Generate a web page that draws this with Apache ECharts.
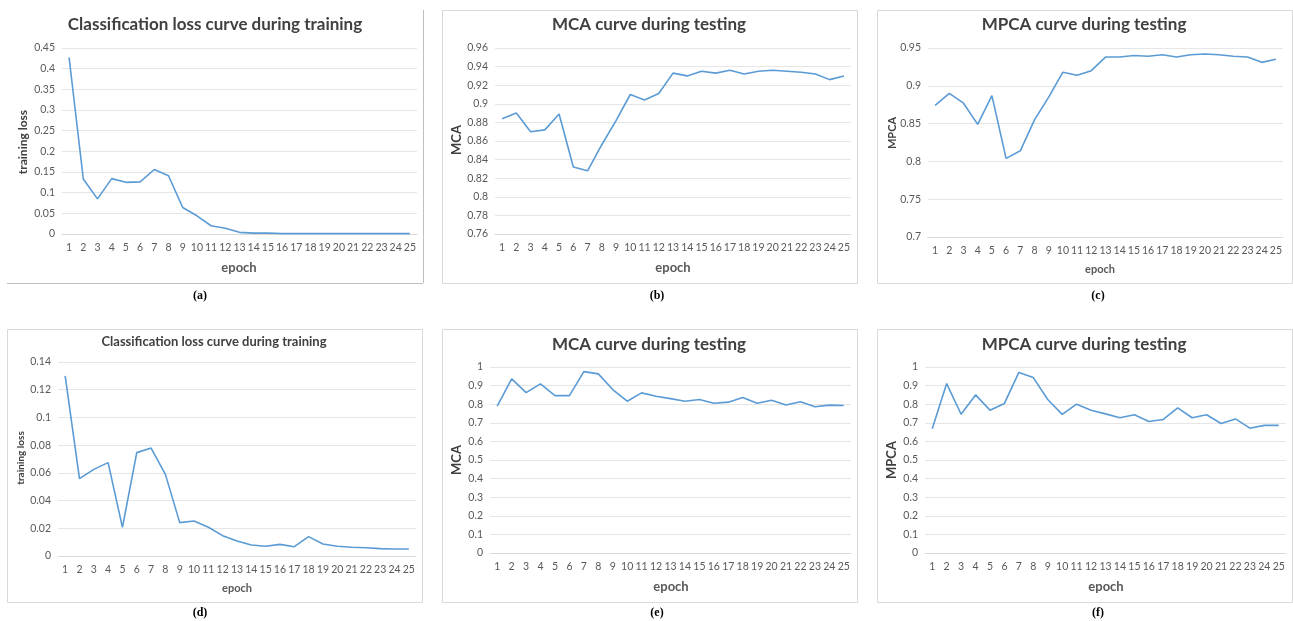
<!DOCTYPE html>
<html>
<head>
<meta charset="utf-8">
<script src="https://cdn.jsdelivr.net/npm/echarts@6/dist/echarts.min.js"></script>
<style>
html,body{margin:0;padding:0;background:#fff;}
#chart{width:1293px;height:621px;}
</style>
</head>
<body>
<div id="chart"></div>
<script>
// ---- data ----
const epochs = ['1','2','3','4','5','6','7','8','9','10','11','12','13','14','15','16','17','18','19','20','21','22','23','24','25'];

const lossA = [0.427,0.133,0.085,0.134,0.125,0.126,0.156,0.141,0.064,0.044,0.020,0.014,0.004,0.002,0.002,0.001,0.001,0.001,0.001,0.001,0.001,0.001,0.001,0.001,0.001];
const mcaB = [0.884,0.890,0.870,0.872,0.889,0.832,0.828,0.856,0.882,0.910,0.904,0.911,0.933,0.930,0.935,0.933,0.936,0.932,0.935,0.936,0.935,0.934,0.932,0.926,0.930];
const mpcaC = [0.874,0.890,0.877,0.849,0.887,0.804,0.814,0.855,0.885,0.918,0.914,0.920,0.938,0.938,0.940,0.939,0.941,0.938,0.941,0.942,0.941,0.939,0.938,0.931,0.935];
const lossD = [0.130,0.0558,0.0625,0.0674,0.0207,0.0746,0.0779,0.0589,0.0241,0.0253,0.0207,0.0147,0.0108,0.0079,0.0070,0.0084,0.0067,0.0140,0.0087,0.0070,0.0063,0.0060,0.0053,0.0051,0.0051];
const mcaE = [0.789,0.936,0.862,0.909,0.846,0.846,0.975,0.963,0.879,0.816,0.861,0.843,0.830,0.816,0.825,0.805,0.811,0.836,0.805,0.821,0.796,0.813,0.786,0.795,0.793];
const mpcaF = [0.668,0.911,0.746,0.850,0.768,0.804,0.971,0.943,0.825,0.745,0.800,0.768,0.748,0.727,0.743,0.707,0.718,0.780,0.727,0.743,0.696,0.721,0.671,0.686,0.686];

const titles = ['Classification loss curve during training','MCA curve during testing','MPCA curve during testing','Classification loss curve during training','MCA curve during testing','MPCA curve during testing'];
const yNames = ['training loss','MCA','MPCA','training loss','MCA','MPCA'];
const xName = 'epoch';
const captions = ['(a)','(b)','(c)','(d)','(e)','(f)'];
const yMin = [0, 0.76, 0.7, 0, 0, 0];
const yMax = [0.45, 0.96, 0.95, 0.14, 1, 1];
const yStep = [0.05, 0.02, 0.05, 0.02, 0.1, 0.1];
const seriesData = [lossA, mcaB, mpcaC, lossD, mcaE, mpcaF];

// ---- layout ----
const layout = [
  {grid:{left:62,top:48,width:355,height:186}, title:[215,25,17], yName:[23,142,12], xName:[239,268,13], cap:[200,296]},
  {grid:{left:495,top:48,width:356,height:186}, title:[649,25,17], yName:[457,140,13], xName:[673,268,13], cap:[657,296]},
  {grid:{left:928,top:48,width:355,height:189}, title:[1084,25,17], yName:[892,133,11], xName:[1100,269,11], cap:[1098,296]},
  {grid:{left:58,top:362,width:358,height:194}, title:[214,342,13], yName:[21,458,10], xName:[237,588,11], cap:[200,613]},
  {grid:{left:490,top:367,width:361,height:186}, title:[649,345,17], yName:[457,460,13], xName:[671,587,13], cap:[657,613]},
  {grid:{left:925,top:367,width:361,height:186}, title:[1084,345,17], yName:[892,460,13], xName:[1106,587,13], cap:[1098,613]}
];
const FONT = 'Lato';
const LINE = '#5B9BD5';
const frameColor = '#d9d9d9';

const grids=[], xAxes=[], yAxes=[], series=[], graphics=[];
layout.forEach((L,i)=>{
  grids.push(Object.assign({containLabel:false}, L.grid));
  xAxes.push({
    type:'category', gridIndex:i, data:epochs, boundaryGap:true,
    axisLine:{show:true,lineStyle:{color:'#d9d9d9',width:1}},
    axisTick:{show:false},
    axisLabel:{interval:0,color:'#595959',fontFamily:FONT,fontSize:10.5,margin:8}
  });
  yAxes.push({
    type:'value', gridIndex:i, min:yMin[i], max:yMax[i], interval:yStep[i],
    axisLine:{show:false}, axisTick:{show:false},
    splitLine:{lineStyle:{color:'#e6e6e6',width:1}},
    axisLabel:{color:'#595959',fontFamily:FONT,fontSize:10.5,margin:7}
  });
  series.push({
    type:'line', xAxisIndex:i, yAxisIndex:i, data:seriesData[i],
    symbol:'none', lineStyle:{color:LINE,width:1.6}, animation:false
  });
  graphics.push({type:'text', x:L.title[0], y:L.title[1], style:{text:titles[i], fill:'#404040', font:'bold '+L.title[2]+'px '+FONT, textAlign:'center', textVerticalAlign:'middle'}});
  graphics.push({type:'text', x:L.yName[0], y:L.yName[1], rotation:Math.PI/2, style:{text:yNames[i], fill:'#404040', font:'bold '+L.yName[2]+'px '+FONT, textAlign:'center', textVerticalAlign:'middle'}});
  graphics.push({type:'text', x:L.xName[0], y:L.xName[1], style:{text:xName, fill:'#595959', font:'bold '+L.xName[2]+'px '+FONT, textAlign:'center', textVerticalAlign:'middle'}});
  graphics.push({type:'text', x:L.cap[0], y:L.cap[1], style:{text:captions[i], fill:'#000', font:'bold 12px "Liberation Serif"', textAlign:'center', textVerticalAlign:'middle'}});
});
// frames
graphics.push({type:'line', shape:{x1:7,y1:283.5,x2:423,y2:283.5}, style:{stroke:'#bfbfbf',lineWidth:1}});
graphics.push({type:'line', shape:{x1:423.5,y1:10,x2:423.5,y2:283}, style:{stroke:'#bfbfbf',lineWidth:1}});
[[442,10],[877,10],[7,329],[442,329],[877,329]].forEach(p=>{
  graphics.push({type:'rect', shape:{x:p[0]+0.5,y:p[1]+0.5,width:415,height:273}, style:{fill:'none',stroke:frameColor,lineWidth:1}});
});

const chart = echarts.init(document.getElementById('chart'), null, {renderer:'canvas'});
chart.setOption({
  animation:false,
  backgroundColor:'#fff',
  grid:grids, xAxis:xAxes, yAxis:yAxes, series:series, graphic:graphics
});
</script>
</body>
</html>
